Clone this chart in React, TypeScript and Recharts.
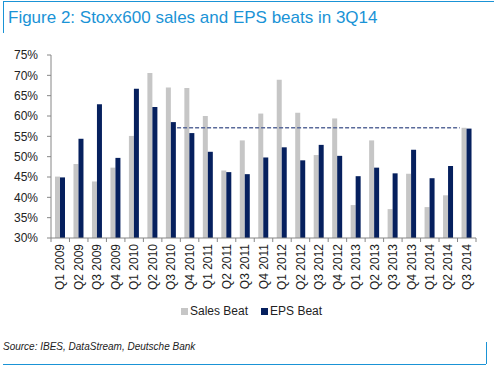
import React from 'react';
import { BarChart, Bar, XAxis, YAxis, ReferenceLine } from 'recharts';

const quarters = [
  'Q1 2009', 'Q2 2009', 'Q3 2009', 'Q4 2009',
  'Q1 2010', 'Q2 2010', 'Q3 2010', 'Q4 2010',
  'Q1 2011', 'Q2 2011', 'Q3 2011', 'Q4 2011',
  'Q1 2012', 'Q2 2012', 'Q3 2012', 'Q4 2012',
  'Q1 2013', 'Q2 2013', 'Q3 2013', 'Q4 2013',
  'Q1 2014', 'Q2 2014', 'Q3 2014',
];

const salesBeat = [
  45.1, 48.2, 43.9, 47.3, 55.1, 70.6, 67.0, 66.9, 60.0, 46.6, 54.0, 60.6,
  68.9, 60.8, 50.4, 59.4, 38.1, 54.0, 37.1, 45.8, 37.6, 40.5, 57.1,
];

const epsBeat = [
  44.9, 54.4, 62.9, 49.7, 66.7, 62.2, 58.5, 55.8, 51.2, 46.2, 45.7, 49.8,
  52.3, 49.1, 52.9, 50.2, 45.2, 47.3, 45.9, 51.7, 44.7, 47.7, 56.9,
];

const yTicks = [30, 35, 40, 45, 50, 55, 60, 65, 70, 75];

// average line across the last part of the sample
const avgLevel = 57.1;
const avgFrom = 'Q3 2010';
const avgTo = 'Q3 2014';

const data = quarters.map((q, i) => ({ q, sales: salesBeat[i], eps: epsBeat[i] }));

const FONT = '"Liberation Sans", Arial, sans-serif';
const BLUE = '#1a93d6';
const SALES = '#c6c6c6';
const EPS = '#06205e';
const plotLeft = 51;
const plotRight = 476;
const band = (plotRight - plotLeft) / quarters.length;

const XTick = (props: any) => {
  const { x, y, payload, index } = props;
  const axisY = y - 6;
  return (
    <g>
      <line x1={x - band / 2} x2={x - band / 2} y1={axisY} y2={axisY + 4} stroke="#868686" />
      {index === quarters.length - 1 && (
        <line x1={x + band / 2} x2={x + band / 2} y1={axisY} y2={axisY + 4} stroke="#868686" />
      )}
      <text
        x={x}
        y={y}
        transform={`rotate(-90 ${x} ${y})`}
        textAnchor="end"
        dy="0.35em"
        fontSize={12}
        fontFamily={FONT}
        fill="#222"
      >
        {payload.value}
      </text>
    </g>
  );
};

const AvgLine = (props: any) => {
  const { x1, x2, y1, y2 } = props;
  return (
    <line
      x1={x1 + 6}
      x2={x2 - 7}
      y1={y1}
      y2={y2}
      stroke="#5a6a9a"
      strokeWidth={1.5}
      strokeDasharray="4 2"
    />
  );
};

export default function App() {
  return (
    <div style={{ position: 'absolute', left: 0, top: 0, width: 494, height: 368, background: '#fff', fontFamily: FONT }}>
      {/* title frame */}
      <div style={{ position: 'absolute', left: 3, top: 1, width: 491, height: 0, borderTop: `1px solid ${BLUE}` }} />
      <div style={{ position: 'absolute', left: 3, top: 1, width: 0, height: 32, borderLeft: `1px solid ${BLUE}` }} />
      <div style={{ position: 'absolute', left: 8, top: 8, fontSize: 17, color: BLUE, whiteSpace: 'nowrap' }}>
        Figure 2: Stoxx600 sales and EPS beats in 3Q14
      </div>

      <div style={{ position: 'absolute', left: 0, top: 0 }}>
        <BarChart
          width={494}
          height={300}
          data={data}
          margin={{ top: 55, right: 494 - plotRight, bottom: 0, left: 0 }}
          barGap={0}
          barSize={5}
        >
          <XAxis
            dataKey="q"
            interval={0}
            height={62}
            tickSize={4}
            tickMargin={2}
            tickLine={false}
            stroke="#868686"
            tick={<XTick />}
          />
          <YAxis
            domain={[30, 75]}
            ticks={yTicks}
            width={plotLeft}
            interval={0}
            tickSize={4}
            tickMargin={9}
            stroke="#868686"
            tickFormatter={(v: number) => `${v}%`}
            tick={{ fontSize: 12, fill: '#222', fontFamily: FONT }}
            allowDataOverflow
          />
          <Bar id="bar0-sales" dataKey="sales" name="Sales Beat" fill={SALES} isAnimationActive={false} />
          <Bar id="bar1-eps" dataKey="eps" name="EPS Beat" fill={EPS} isAnimationActive={false} />
          <ReferenceLine
            segment={[{ x: avgFrom, y: avgLevel }, { x: avgTo, y: avgLevel }]}
            shape={<AvgLine />}
          />
        </BarChart>
      </div>

      {/* legend */}
      <div style={{ position: 'absolute', left: 181, top: 304, display: 'flex', alignItems: 'center', fontSize: 12, color: '#222', whiteSpace: 'nowrap' }}>
        <span style={{ width: 7, height: 7, background: SALES, marginRight: 2 }} />
        <span>Sales Beat</span>
        <span style={{ width: 7, height: 7, background: EPS, marginLeft: 13, marginRight: 2 }} />
        <span>EPS Beat</span>
      </div>

      {/* source frame */}
      <div style={{ position: 'absolute', left: 3, top: 341, fontSize: 10, fontStyle: 'italic', color: '#222' }}>
        Source: IBES, DataStream, Deutsche Bank
      </div>
      <div style={{ position: 'absolute', left: 3, top: 364, width: 483, height: 0, borderTop: `1px solid ${BLUE}` }} />
      <div style={{ position: 'absolute', left: 486, top: 342, width: 0, height: 22, borderLeft: `1px solid ${BLUE}` }} />
    </div>
  );
}
